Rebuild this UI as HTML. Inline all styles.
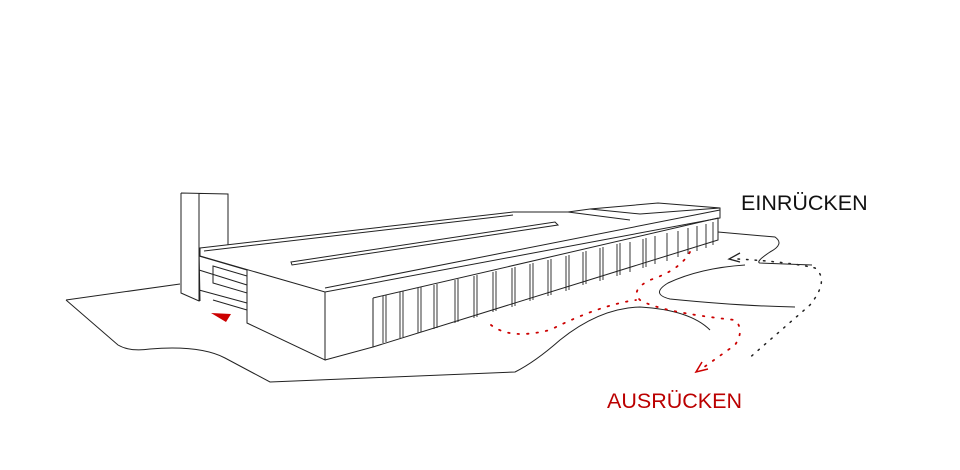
<!DOCTYPE html>
<html><head><meta charset="utf-8"><style>
html,body{margin:0;padding:0;background:#fff;width:960px;height:470px;overflow:hidden}
svg{display:block}
text{font-family:"Liberation Sans",sans-serif}
</style></head><body>
<svg width="960" height="470" viewBox="0 0 960 470" xmlns="http://www.w3.org/2000/svg">
<g fill="none" stroke="#222" stroke-width="1">
<path d="M66 300 L180 284"/>
<path d="M66 300 L118 345 Q130 352 150 349 Q200 345 225 358 L270 382 L515 372 Q535 362 560 340 Q600 308 640 307 Q690 310 710 330"/>
<path d="M718 232 L775 237 Q785 244 770 252 Q755 262 760 263 L812 265"/>
<path d="M795 307 Q740 306 670 299 Q650 294 668 283 Q700 268 745 265"/>
<path d="M181 193 L228 194 L228 245 M181 193 L181 293 L199 301 L199 193"/>
<path d="M199 248 L200 301 M199 256 L247 270 M199 270 L247 285 M213 266 L247 276 L247 293 L213 283 Z M199 290 L247 303 M213 300 L247 310"/>
<path d="M200 248 L513 212 L568 212 L590 209 L658 203 L720 208 L720 218 L325 292 L200 256 Z" />
<path d="M204 251 L513 215 M325 288 L720 210"/>
<path d="M291 262 L555 222 L558 225 L292 265 Z"/>
<path d="M568 212 L630 220 M590 209 L640 214 L720 208"/>
<path d="M247 270 L247 323 L325 360 L325 292 M325 360 L373 347 L373 298"/>
<path d="M373 298 L718 218 L718 240 L373 347"/>
</g>
<g stroke="#222" stroke-width="0.9">
<path d="M383 296 V343 M386 295 V342 M400 292 V338 M403 291 V337 M418 288 V333 M421 287 V332 M434 285 V329 M437 284 V328 M455 280 V323 M458 279 V322 M474 276 V318 M477 275 V317 M493 272 V312 M496 271 V311 M512 268 V307 M515 267 V306 M530 264 V301 M533 263 V300 M548 260 V296 M551 259 V295 M566 256 V291 M569 255 V290 M583 252 V285 M586 251 V284 M600 248 V281 M603 247 V280 M617 244 V276 M620 243 V275 M630 242 V272 M643 239 V268 M646 238 V267 M655 236 V264 M667 233 V261 M678 231 V257 M688 228 V254 M697 226 V251 M706 224 V248 M713 222 V245"/>
</g>
<path d="M738 259 Q790 262 815 268 Q830 280 810 305 L747 360" fill="none" stroke="#222" stroke-width="1.5" stroke-dasharray="1.5 7" stroke-linecap="round"/>
<path d="M740 253 L729 259 L740 262" fill="none" stroke="#222" stroke-width="1.3"/>
<g fill="none" stroke="#c00" stroke-width="1.8" stroke-dasharray="1.5 8" stroke-linecap="round">
<path d="M690 252 Q680 270 650 280 Q630 290 640 300 Q660 312 735 320 Q745 330 735 345 L700 370"/>
<path d="M491 325 Q510 340 550 330 Q600 305 636 300"/>
</g>
<path d="M702 362 L696 372 L708 369" fill="none" stroke="#c00" stroke-width="1.5"/>
<path d="M211 313 L231 314 L226 322 Z" fill="#c00"/>
<text x="741" y="210" font-size="21.5" fill="#111">EINRÜCKEN</text>
<text x="607" y="408" font-size="21.5" fill="#b00">AUSRÜCKEN</text>
</svg>
</body></html>
